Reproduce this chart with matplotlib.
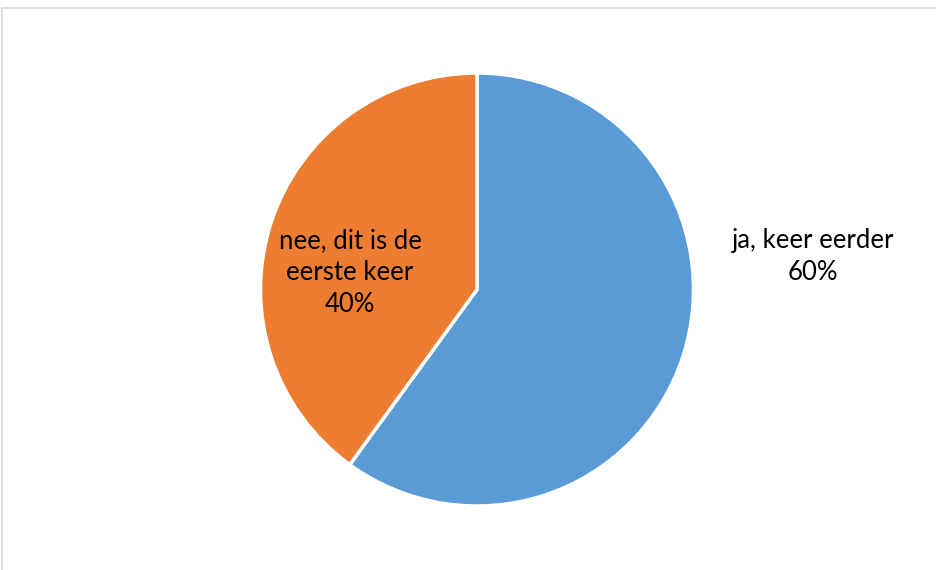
import matplotlib
matplotlib.use("Agg")
import matplotlib.pyplot as plt
from matplotlib.patches import Rectangle

categories = ["ja, keer eerder", "nee, dit is de\neerste keer"]
values = [60, 40]
colors = ["#5B9BD5", "#ED7D31"]

plt.rcParams['font.family'] = ['Lato', 'DejaVu Sans']

W, H = 937, 570
fig = plt.figure(figsize=(W / 100, H / 100), dpi=100)
ax = fig.add_axes([0, 0, 1, 1])

# chart border (right and bottom edges run off the image)
fig.patches.append(Rectangle((2.5 / W, -0.1), 2, (H - 7.5) / H + 0.1, transform=fig.transFigure,
                             fill=False, edgecolor='#D9D9D9', linewidth=1.2))

cx, cy, r = 477, 280.5, 216.5
wedges, _ = ax.pie(values, colors=colors, startangle=90, counterclock=False,
                   center=(cx, cy), radius=r, frame=True,
                   wedgeprops=dict(edgecolor='white', linewidth=2.5))
ax.set_xlim(0, W)
ax.set_ylim(0, H)
ax.set_aspect('equal')
ax.axis('off')

label_offsets = [(336, 33), (-127, 17)]
for cat, v, (dx, dy) in zip(categories, values, label_offsets):
    ax.text(cx + dx, cy + dy, f"{cat}\n{v}%", ha='center', va='center',
            fontsize=18.5, color='black', linespacing=1.33)

fig.savefig("out.png", dpi=100)
